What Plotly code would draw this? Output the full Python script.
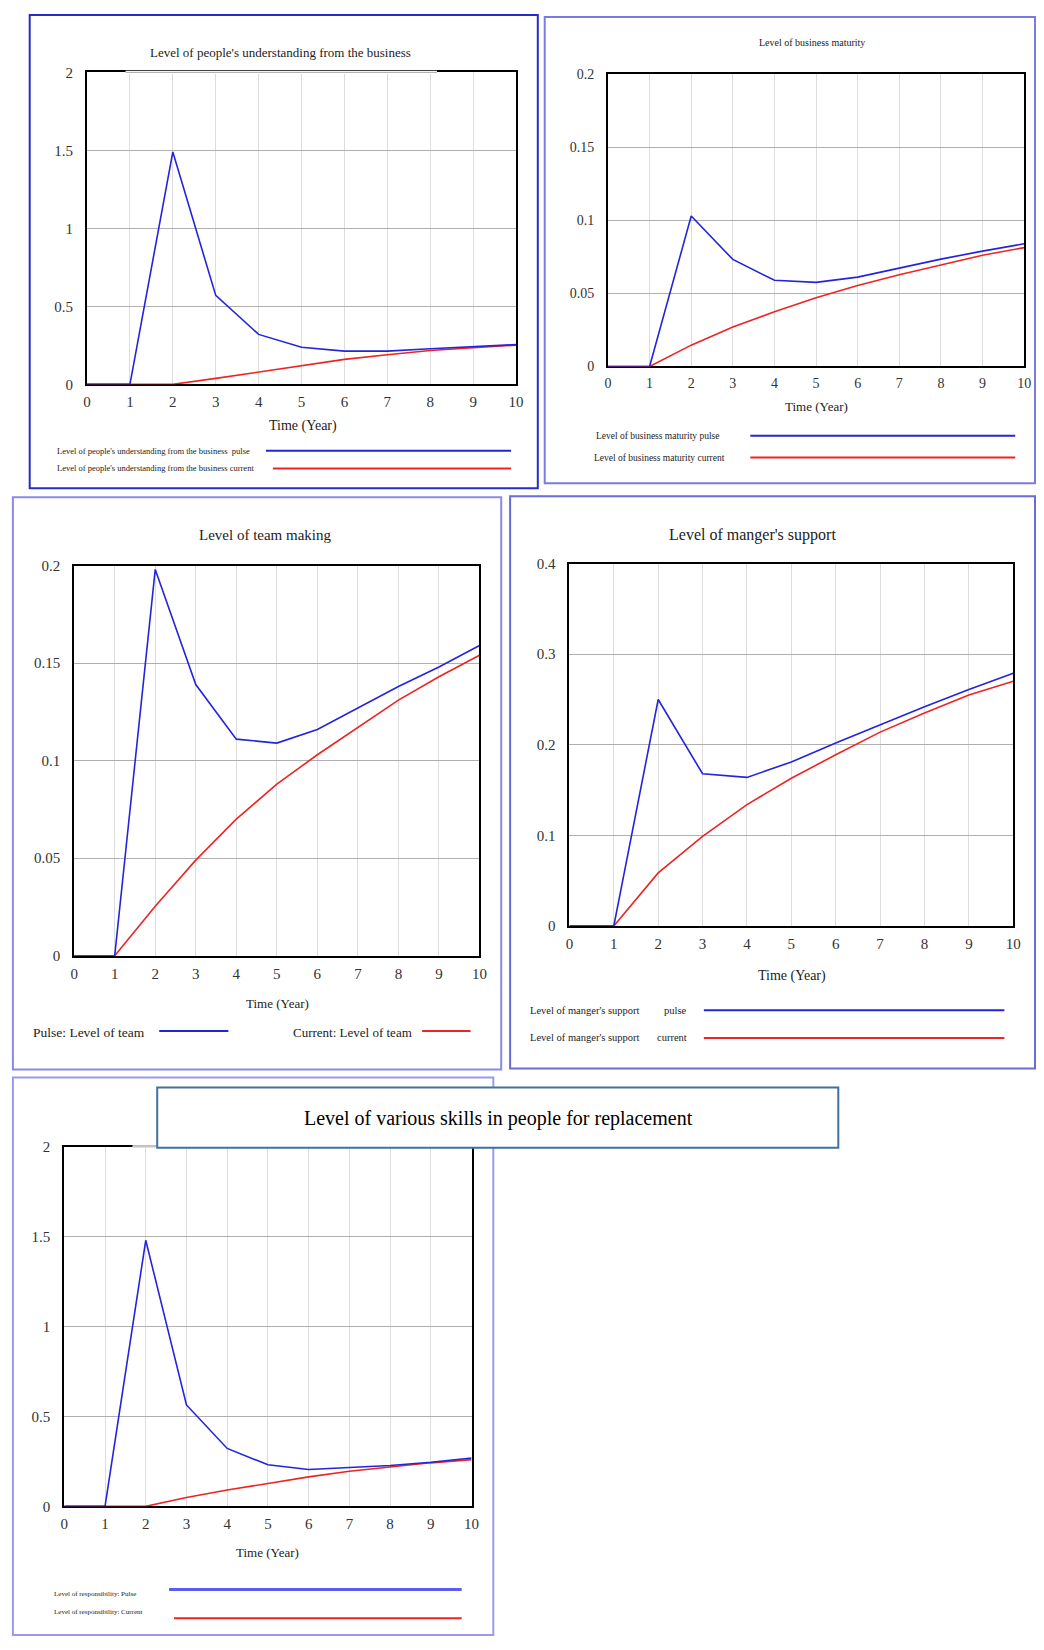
import plotly.graph_objects as go

# ---------------- data ----------------
years = [0, 1, 2, 3, 4, 5, 6, 7, 8, 9, 10]

understanding_pulse = [0, 0, 1.49, 0.57, 0.32, 0.238, 0.213, 0.213, 0.228, 0.240, 0.255]
understanding_current = [0, 0, 0, 0.038, 0.079, 0.117, 0.160, 0.190, 0.217, 0.234, 0.251]

maturity_pulse = [0, 0, 0.103, 0.0733, 0.059, 0.0576, 0.0612, 0.0673, 0.0735, 0.079, 0.084]
maturity_current = [0, 0, 0.0146, 0.027, 0.0374, 0.047, 0.0554, 0.0628, 0.0695, 0.0762, 0.0814]

team_pulse = [0, 0, 0.198, 0.139, 0.111, 0.109, 0.116, 0.127, 0.138, 0.148, 0.159]
team_current = [0, 0, 0.0254, 0.049, 0.070, 0.088, 0.103, 0.117, 0.131, 0.143, 0.154]

support_pulse = [0, 0, 0.250, 0.168, 0.164, 0.181, 0.202, 0.222, 0.242, 0.261, 0.279]
support_current = [0, 0, 0.0586, 0.099, 0.134, 0.163, 0.189, 0.214, 0.235, 0.255, 0.270]

responsibility_pulse = [0, 0, 1.48, 0.564, 0.322, 0.231, 0.205, 0.218, 0.227, 0.245, 0.269]
responsibility_current = [0, 0, 0, 0.049, 0.091, 0.127, 0.164, 0.195, 0.218, 0.242, 0.260]

ticks_0_2 = [0, 0.5, 1, 1.5, 2]
ticks_0_02 = [0, 0.05, 0.1, 0.15, 0.2]
ticks_0_04 = [0, 0.1, 0.2, 0.3, 0.4]

titles = [
    "Level of people's understanding from the business",
    "Level of business maturity",
    "Level of team making",
    "Level of manger's support",
]
main_title = "Level of various skills in people for replacement"
x_title = "Time (Year)"

# ---------------- layout helpers ----------------
W, H = 1044, 1650
FONT = "Liberation Serif, Times New Roman, serif"
BLUE = "#2424dc"
RED = "#ec2424"

def px(x):
    return x / W

def py(y):
    return 1 - y / H

panels = [
    dict(box=(84, 65, 518, 380), ymax=2, yt=ticks_0_2, pulse=understanding_pulse,
         current=understanding_current, tick=15),
    dict(box=(611, 67, 1032, 362), ymax=0.2, yt=ticks_0_02, pulse=maturity_pulse,
         current=maturity_current, tick=14),
    dict(box=(71, 563, 481, 957), ymax=0.2, yt=ticks_0_02, pulse=team_pulse,
         current=team_current, tick=15),
    dict(box=(572, 561, 1021, 927), ymax=0.4, yt=ticks_0_04, pulse=support_pulse,
         current=support_current, tick=15),
    dict(box=(61, 1150, 473, 1513), ymax=2, yt=ticks_0_2, pulse=responsibility_pulse,
         current=responsibility_current, tick=15),
]

fig = go.Figure()
layout = dict(
    width=W, height=H, autosize=False,
    margin=dict(l=0, r=0, t=0, b=0),
    paper_bgcolor="white", plot_bgcolor="white",
    showlegend=False,
)

for i, p in enumerate(panels, start=1):
    l, t, r, b = p["box"]
    xa = "x" if i == 1 else f"x{i}"
    ya = "y" if i == 1 else f"y{i}"
    fig.add_trace(go.Scatter(x=years, y=p["current"], mode="lines", xaxis=xa, yaxis=ya,
                             line=dict(color=RED, width=1.6), hoverinfo="skip"))
    fig.add_trace(go.Scatter(x=years, y=p["pulse"], mode="lines", xaxis=xa, yaxis=ya,
                             line=dict(color=BLUE, width=1.6), hoverinfo="skip"))
    tf = dict(family=FONT, size=p["tick"], color="#333333")
    layout["xaxis" if i == 1 else f"xaxis{i}"] = dict(
        domain=[px(l), px(r)], range=[0, 10], anchor=ya,
        tickmode="array", tickvals=years, ticktext=[str(v) for v in years],
        showgrid=True, gridcolor="#dcdcdc", gridwidth=1, zeroline=False,
        showline=True, linecolor="black", linewidth=2, mirror=True,
        ticks="outside", ticklen=3, tickcolor="rgba(0,0,0,0)",
        tickfont=tf, layer="below traces", fixedrange=True,
    )
    layout["yaxis" if i == 1 else f"yaxis{i}"] = dict(
        domain=[py(b), py(t)], range=[0, p["ymax"]], anchor=xa,
        tickmode="array", tickvals=p["yt"], ticktext=[f"{v:g}" for v in p["yt"]],
        showgrid=True, gridcolor="#b0b0b0", gridwidth=1, zeroline=False,
        showline=True, linecolor="black", linewidth=2, mirror=True,
        ticks="outside", ticklen=9, tickcolor="rgba(0,0,0,0)",
        tickfont=tf, layer="below traces", fixedrange=True,
    )

shapes = []
annotations = []

def rect(x0, y0, x1, y1, color, width=2, fill="rgba(0,0,0,0)"):
    shapes.append(dict(type="rect", xref="paper", yref="paper",
                       x0=px(x0), x1=px(x1), y0=py(y1), y1=py(y0),
                       line=dict(color=color, width=width), fillcolor=fill, layer="above"))

def hline(x0, x1, y, color, width=2):
    shapes.append(dict(type="line", xref="paper", yref="paper",
                       x0=px(x0), x1=px(x1), y0=py(y), y1=py(y),
                       line=dict(color=color, width=width), layer="above"))

def text(s, x, y, size, xanchor="center", color="#222222"):
    annotations.append(dict(text=s, x=px(x), y=py(y), xref="paper", yref="paper",
                            showarrow=False, xanchor=xanchor, yanchor="middle",
                            font=dict(family=FONT, size=size, color=color)))

# panel frames
rect(26, 7, 540, 485, "#2a2ac8", 2)
rect(547, 9, 1043, 480, "#7a7ae4", 2)
rect(9, 494, 503, 1072, "#8a8ae6", 2)
rect(512, 493, 1043, 1071, "#6a6ad8", 2)
rect(9, 1080, 495, 1643, "#9a9aec", 2)

# thinner grey middle part of the top border (panels 1 and 5)
hline(123, 438, 65, "white", 3)
hline(123, 438, 65, "#a8a8a8", 1)
hline(130, 473, 1150, "white", 3)
hline(130, 473, 1150, "#a8a8a8", 1)

# titles
text(titles[0], 280, 45, 13)
text(titles[1], 817, 35, 10)
text(titles[2], 265, 532, 15)
text(titles[3], 757, 532, 16)

# axis titles
text(x_title, 302, 422, 14)
text(x_title, 822, 402, 13)
text(x_title, 277, 1005, 13)
text(x_title, 797, 977, 14)
text(x_title, 267, 1560, 13)

# legends panel 1
text("Level of people's understanding from the business  pulse", 52, 447, 8.5, "left")
hline(265, 513, 447, BLUE, 2)
text("Level of people's understanding from the business current", 52, 465, 8.5, "left")
hline(272, 513, 465, RED, 2)

# legends panel 2
text("Level of business maturity pulse", 597, 432, 9.5, "left")
hline(755, 1023, 432, BLUE, 2)
text("Level of business maturity current", 595, 454, 9.5, "left")
hline(755, 1023, 454, RED, 2)

# legends panel 3
text("Pulse: Level of team", 27, 1035, 13.5, "left")
hline(157, 227, 1033, BLUE, 2)
text("Current: Level of team", 290, 1035, 13, "left")
hline(423, 472, 1033, RED, 2)

# legends panel 4
text("Level of manger's support", 530, 1012, 10.5, "left")
text("pulse", 693, 1012, 10.5, "right")
hline(708, 1012, 1012, BLUE, 2)
text("Level of manger's support", 530, 1040, 10.5, "left")
text("current", 693, 1040, 10.5, "right")
hline(708, 1012, 1040, RED, 2)

# legends panel 5
text("Level of responsibility: Pulse", 49, 1602, 7, "left")
hline(167, 463, 1597, "#5c5cf0", 3)
text("Level of responsibility: Current", 49, 1620, 7, "left")
hline(172, 463, 1626, RED, 2)

# overall title box
rect(155, 1090, 844, 1151, "#41719C", 2, "white")
text(main_title, 500, 1121, 20, color="black")

layout["shapes"] = shapes
layout["annotations"] = annotations
fig.update_layout(**layout)

fig.write_html("out.html", config={"displayModeBar": False},
               post_script="document.body.style.margin='0';document.body.style.overflow='hidden';")
